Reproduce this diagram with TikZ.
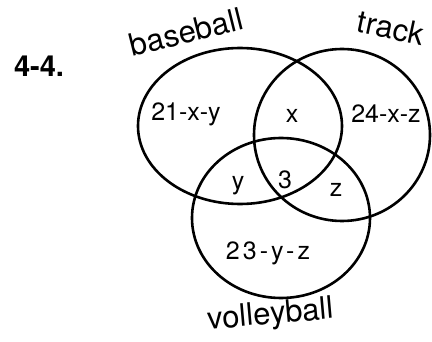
\documentclass[tikz,border=0pt]{standalone}
\usepackage{fontspec}
\setmainfont{TeX Gyre Heros}
\usepackage{tikz}
\newcommand{\setline}{2.6pt}

\begin{document}
\begin{tikzpicture}[x=1pt,y=-1pt,
    region/.style={font=\fontsize{25}{30}\selectfont,inner sep=0},
    setname/.style={font=\fontsize{31}{36}\selectfont,inner sep=0}]
  \useasboundingbox (0,0) rectangle (432,342);
  % the three sets
  \draw[line width=\setline] (240,126) ellipse [x radius=102,y radius=78];
  \draw[line width=\setline] (342,135) ellipse [x radius=88,y radius=86];
  \draw[line width=\setline] (281,218) ellipse [x radius=89,y radius=80];
  % names
  \node[font=\fontsize{29}{34}\selectfont\bfseries,inner sep=0] (num) at (39,66) {4-4.};
  \node[setname,rotate=14] (baseball) at (186,32) {baseball};
  \node[setname,rotate=-12] (track) at (391,28) {track};
  \node[setname,rotate=5] (volleyball) at (271,316) {volleyball};
  % regions
  \node[region] (onlyb) at (186,114) {21-x-y};
  \node[region] (bt) at (292,116) {x};
  \node[region] (onlyt) at (386,114) {24-x-z};
  \node[region] (bv) at (238,186) {y};
  \node[region] (all) at (285,180) {3};
  \node[region] (tv) at (336,190) {z};
  \node[region,font=\fontsize{25}{30}\selectfont\addfontfeatures{LetterSpace=12}] (onlyv) at (268,253) {23-y-z};
\end{tikzpicture}
\end{document}
